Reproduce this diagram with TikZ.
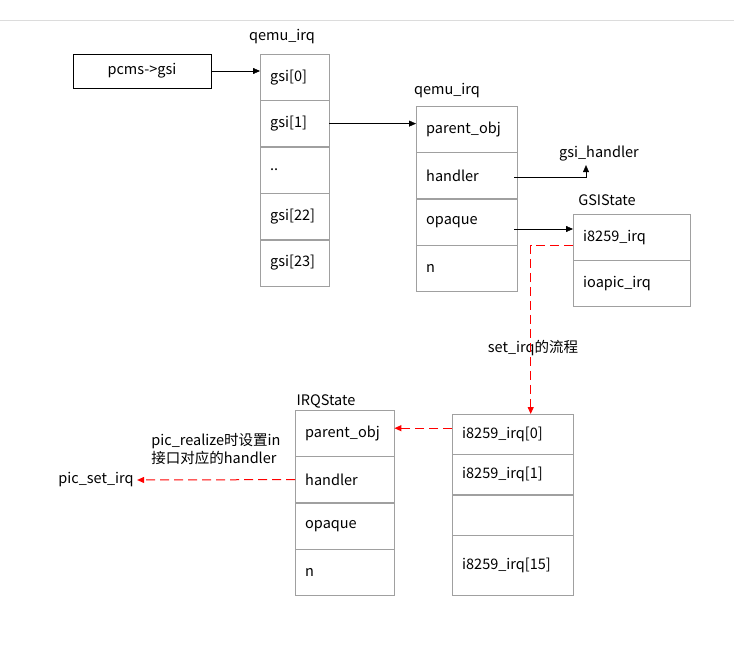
\documentclass[tikz,border=0pt]{standalone}
\usepackage{fontspec}
\setmainfont{Noto Sans CJK SC}
\usetikzlibrary{arrows.meta, positioning}
\definecolor{boxgray}{HTML}{A0A0A0}
\definecolor{rulegray}{HTML}{DCDCDC}
\definecolor{flowred}{HTML}{FF0000}

\begin{document}
\begin{tikzpicture}[
    x=1pt, y=-1pt,
    font=\fontsize{14.5}{18}\selectfont,
    cell/.style={draw=boxgray, text width=#1, inner xsep=10pt, minimum height=46pt, align=left},
    slot/.style={cell=#1, minimum height=40pt},
    arrow/.style={-{Triangle[length=7pt, width=6pt]}},
    flow/.style={color=flowred, line width=1pt, dash pattern=on 9pt off 5pt, -{Triangle[length=7pt, width=6pt]}}
]
\useasboundingbox (0,0) rectangle (734,647);
\draw[rulegray] (0,20) -- (734,20);

% pcms->gsi and the gsi array
\node[draw, minimum width=138pt, minimum height=34pt] (pcms) at (142,71) {pcms->gsi};
\node (lgsi) at (282,37) {qemu\_irq};
\node[cell=49pt, anchor=north west] (g0) at (260,54) {gsi[0]};
\node[cell=49pt, below=0pt of g0] (g1) {gsi[1]};
\node[cell=49pt, below=0pt of g1] (g2) {..};
\node[cell=49pt, below=0pt of g2] (g22) {gsi[22]};
\node[cell=49pt, below=0pt of g22] (g23) {gsi[23]};

% qemu_irq struct
\node (lirq) at (447,91) {qemu\_irq};
\node[cell=81pt, anchor=north west] (qp) at (416,106) {parent\_obj};
\node[cell=81pt, below=0pt of qp] (qh) {handler};
\node[cell=81pt, below=0pt of qh] (qo) {opaque};
\node[cell=81pt, below=0pt of qo] (qn) {n};
\node (gh) at (599,154) {gsi\_handler};

% GSIState
\node (lgs) at (607,200) {GSIState};
\node[cell=97pt, anchor=north west] (gs0) at (573,214) {i8259\_irq};
\node[cell=97pt, below=0pt of gs0] (gs1) {ioapic\_irq};

% i8259 irq array
\node[slot=101pt, anchor=north west] (i0) at (452,414) {i8259\_irq[0]};
\node[slot=101pt, below=0pt of i0] (i1) {i8259\_irq[1]};
\node[slot=101pt, below=0pt of i1] (i2) {};
\node[slot=101pt, minimum height=60pt, below=0pt of i2] (i15) {i8259\_irq[15]};

% IRQState
\node (lirqs) at (326,401) {IRQState};
\node[cell=79pt, anchor=north west] (rp) at (295,410) {parent\_obj};
\node[cell=79pt, below=0pt of rp] (rh) {handler};
\node[cell=79pt, below=0pt of rh] (ro) {opaque};
\node[cell=79pt, below=0pt of ro] (rn) {n};

\node (psi) at (96,480) {pic\_set\_irq};
\node[align=left] (note) at (216,449) {pic\_realize时设置in\\接口对应的handler};
\node (flowlbl) at (533,348) {set\_irq的流程};

% connectors
\coordinate (qout) at ([yshift=-2pt, xshift=-3pt]qh.east);
\coordinate (oout) at ([yshift=-7pt, xshift=-3pt]qo.east);
\coordinate (rin) at ([yshift=-8pt]gs0.west);
\coordinate (iin) at ([yshift=6pt]i0.west);
\draw[arrow] (pcms.east) -- (pcms.east -| g0.west);
\draw[arrow] (g1.east) -- (g1.east -| qp.west);
\draw[arrow] (qout) -| ([xshift=-13pt]gh.south);
\draw[arrow] (oout) -- (oout -| gs0.west);
\draw[flow] (rin) -| ([xshift=18pt]i0.north);
\draw[flow] (iin) -- (iin -| rp.east);
\draw[flow] (rh.west) -- (psi.east);
\end{tikzpicture}
\end{document}
